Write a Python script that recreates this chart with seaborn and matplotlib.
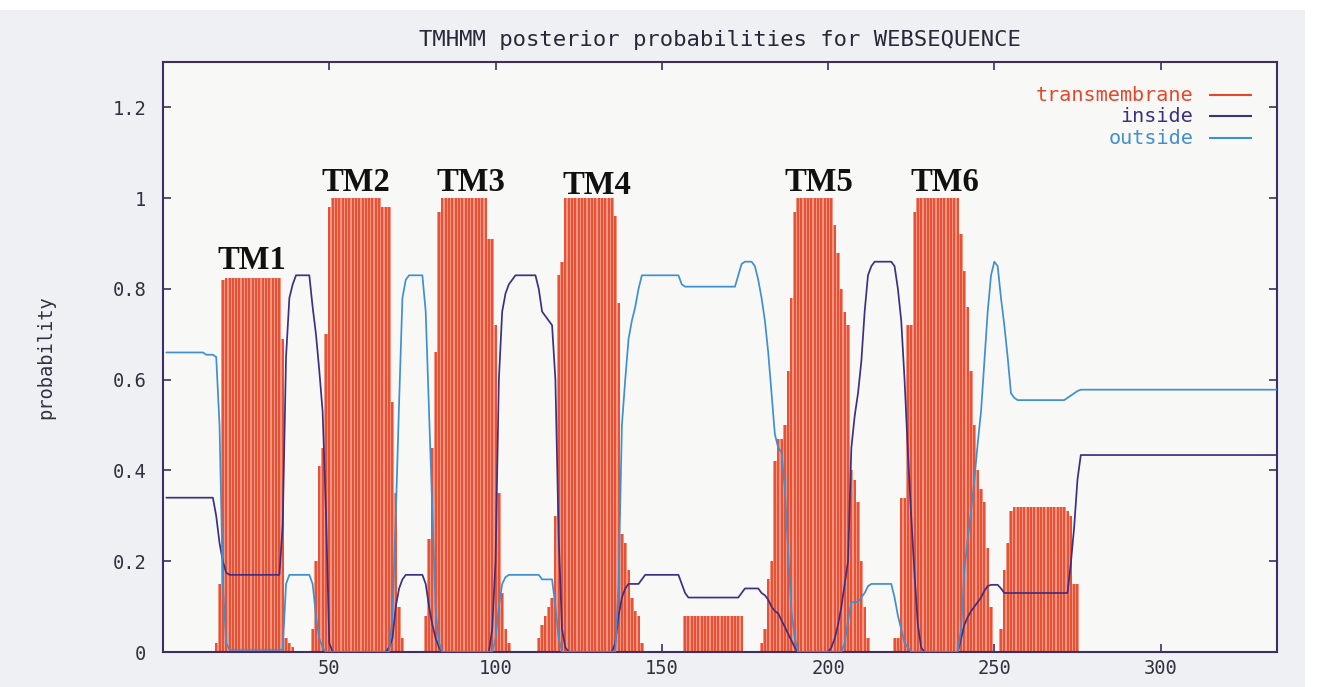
import numpy as np
import pandas as pd
import matplotlib
matplotlib.use("Agg")
import matplotlib.pyplot as plt
from matplotlib.patches import Rectangle
import seaborn as sns

# ---------------- data (per residue) ----------------
transmembrane = [
    0, 0, 0, 0, 0, 0, 0, 0, 0, 0,
    0, 0, 0, 0, 0, .02, .15, .82, .825, .825,
    .825, .825, .825, .825, .825, .825, .825, .825, .825, .825,
    .825, .825, .825, .825, .825, .69, .03, .02, .01, 0,
    0, 0, 0, 0, .05, .2, .41, .45, .7, .98,
    1, 1, 1, 1, 1, 1, 1, 1, 1, 1,
    1, 1, 1, 1, 1, .98, .98, .98, .55, .35,
    .1, .03, 0, 0, 0, 0, 0, 0, .08, .25,
    .45, .66, .97, 1, 1, 1, 1, 1, 1, 1,
    1, 1, 1, 1, 1, 1, 1, .91, .91, .72,
    .35, .13, .05, .02, 0, 0, 0, 0, 0, 0,
    0, 0, .03, .06, .08, .1, .12, .3, .83, .86,
    1, 1, 1, 1, 1, 1, 1, 1, 1, 1,
    1, 1, 1, 1, 1, .96, .77, .26, .24, .18,
    .12, .09, .08, .02, 0, 0, 0, 0, 0, 0,
    0, 0, 0, 0, 0, 0, .08, .08, .08, .08,
    .08, .08, .08, .08, .08, .08, .08, .08, .08, .08,
    .08, .08, .08, .08, 0, 0, 0, 0, 0, .02,
    .05, .16, .2, .42, .47, .47, .5, .62, .78, .97,
    1, 1, 1, 1, 1, 1, 1, 1, 1, 1,
    1, .94, .88, .8, .75, .72, .4, .38, .33, .2,
    .1, .03, 0, 0, 0, 0, 0, 0, 0, .03,
    .03, .34, .34, .72, .72, .97, 1, 1, 1, 1,
    1, 1, 1, 1, 1, 1, 1, 1, 1, .92,
    .84, .76, .62, .5, .4, .36, .33, .23, .1, 0,
    0, .05, .18, .24, .31, .32, .32, .32, .32, .32,
    .32, .32, .32, .32, .32, .32, .32, .32, .32, .32,
    .32, .31, .3, .15, .15, 0, 0, 0, 0, 0,
    0, 0, 0, 0, 0, 0, 0, 0, 0, 0,
    0, 0, 0, 0, 0, 0, 0, 0, 0, 0,
    0, 0, 0, 0, 0, 0, 0, 0, 0, 0,
    0, 0, 0, 0, 0, 0, 0, 0, 0, 0,
    0, 0, 0, 0, 0, 0, 0, 0, 0, 0,
    0, 0, 0, 0, 0,
]

inside = [
    .34, .34, .34, .34, .34, .34, .34, .34, .34, .34,
    .34, .34, .34, .34, .34, .3, .24, .2, .175, .17,
    .17, .17, .17, .17, .17, .17, .17, .17, .17, .17,
    .17, .17, .17, .17, .17, .28, .65, .78, .81, .83,
    .83, .83, .83, .83, .76, .7, .62, .53, .31, .02,
    0, 0, 0, 0, 0, 0, 0, 0, 0, 0,
    0, 0, 0, 0, 0, 0, 0, .01, .03, .1,
    .14, .16, .17, .17, .17, .17, .17, .17, .15, .1,
    .06, .03, .01, 0, 0, 0, 0, 0, 0, 0,
    0, 0, 0, 0, 0, 0, 0, 0, .05, .2,
    .6, .75, .79, .81, .82, .83, .83, .83, .83, .83,
    .83, .83, .8, .75, .74, .73, .72, .6, .25, .05,
    .01, 0, 0, 0, 0, 0, 0, 0, 0, 0,
    0, 0, 0, 0, 0, .02, .08, .12, .14, .15,
    .15, .15, .15, .16, .17, .17, .17, .17, .17, .17,
    .17, .17, .17, .17, .17, .15, .13, .12, .12, .12,
    .12, .12, .12, .12, .12, .12, .12, .12, .12, .12,
    .12, .12, .12, .13, .14, .14, .14, .14, .14, .13,
    .125, .115, .1, .09, .085, .07, .055, .04, .025, .01,
    0, 0, 0, 0, 0, 0, 0, 0, 0, 0,
    .01, .03, .06, .1, .15, .2, .45, .52, .57, .64,
    .75, .83, .85, .86, .86, .86, .86, .86, .86, .85,
    .8, .73, .6, .44, .3, .17, .06, .01, 0, 0,
    0, 0, 0, 0, 0, 0, 0, 0, 0, .03,
    .06, .077, .09, .1, .11, .12, .135, .145, .148, .148,
    .148, .14, .13, .13, .13, .13, .13, .13, .13, .13,
    .13, .13, .13, .13, .13, .13, .13, .13, .13, .13,
    .13, .13, .195, .275, .38, .434, .434, .434, .434, .434,
    .434, .434, .434, .434, .434, .434, .434, .434, .434, .434,
    .434, .434, .434, .434, .434, .434, .434, .434, .434, .434,
    .434, .434, .434, .434, .434, .434, .434, .434, .434, .434,
    .434, .434, .434, .434, .434, .434, .434, .434, .434, .434,
    .434, .434, .434, .434, .434, .434, .434, .434, .434, .434,
    .434, .434, .434, .434, .434,
]

outside = [
    .66, .66, .66, .66, .66, .66, .66, .66, .66, .66,
    .66, .66, .655, .655, .655, .65, .5, .15, .02, .005,
    .005, .005, .005, .005, .005, .005, .005, .005, .005, .005,
    .005, .005, .005, .005, .005, .005, .15, .17, .17, .17,
    .17, .17, .17, .17, .15, .08, .03, .01, 0, 0,
    0, 0, 0, 0, 0, 0, 0, 0, 0, 0,
    0, 0, 0, 0, 0, 0, 0, 0, .08, .3,
    .55, .78, .82, .83, .83, .83, .83, .83, .75, .53,
    .31, .09, .02, 0, 0, 0, 0, 0, 0, 0,
    0, 0, 0, 0, 0, 0, 0, 0, 0, .03,
    .1, .15, .165, .17, .17, .17, .17, .17, .17, .17,
    .17, .17, .17, .16, .16, .16, .16, .1, .03, 0,
    0, 0, 0, 0, 0, 0, 0, 0, 0, 0,
    0, 0, 0, 0, 0, 0, .15, .5, .6, .69,
    .73, .76, .8, .83, .83, .83, .83, .83, .83, .83,
    .83, .83, .83, .83, .83, .81, .805, .805, .805, .805,
    .805, .805, .805, .805, .805, .805, .805, .805, .805, .805,
    .805, .805, .83, .855, .86, .86, .86, .85, .82, .78,
    .73, .66, .57, .48, .45, .44, .36, .22, .09, .03,
    0, 0, 0, 0, 0, 0, 0, 0, 0, 0,
    0, 0, 0, 0, .02, .07, .11, .11, .11, .12,
    .13, .145, .15, .15, .15, .15, .15, .15, .15, .12,
    .08, .05, .02, .01, 0, 0, 0, 0, 0, 0,
    0, 0, 0, 0, 0, 0, 0, 0, 0, .05,
    .18, .25, .31, .38, .46, .53, .64, .75, .83, .86,
    .85, .78, .72, .65, .57, .56, .555, .555, .555, .555,
    .555, .555, .555, .555, .555, .555, .555, .555, .555, .555,
    .555, .56, .565, .57, .575, .578, .578, .578, .578, .578,
    .578, .578, .578, .578, .578, .578, .578, .578, .578, .578,
    .578, .578, .578, .578, .578, .578, .578, .578, .578, .578,
    .578, .578, .578, .578, .578, .578, .578, .578, .578, .578,
    .578, .578, .578, .578, .578, .578, .578, .578, .578, .578,
    .578, .578, .578, .578, .578, .578, .578, .578, .578, .578,
    .578, .578, .578, .578, .578,
]

tm_labels = ["TM1", "TM2", "TM3", "TM4", "TM5", "TM6"]
tm_label_x = [26.8, 58, 92.5, 130.4, 197.3, 235]
tm_label_y = [0.845, 1.015, 1.015, 1.01, 1.015, 1.015]

x_ticks = [50, 100, 150, 200, 250, 300]
y_ticks = [0, 0.2, 0.4, 0.6, 0.8, 1.0, 1.2]
y_tick_labels = ["0", "0.2", "0.4", "0.6", "0.8", "1", "1.2"]

title = "TMHMM posterior probabilities for WEBSEQUENCE"
series_names = ["transmembrane", "inside", "outside"]

# ---------------- style ----------------
C_TM = "#e6472a"
C_TM_LIGHT = "#f19683"
C_IN = "#3d2f84"
C_OUT = "#3f8fd2"
C_FRAME = "#3b2f66"
C_TEXT = "#33303f"
MONO = ["DejaVu Sans Mono"]

sns.set_theme(style="ticks")
plt.rcParams["font.family"] = MONO

n = min(len(transmembrane), len(inside), len(outside))
df = pd.DataFrame({
    "residue": np.arange(1, n + 1),
    "transmembrane": transmembrane[:n],
    "inside": inside[:n],
    "outside": outside[:n],
})

fig = plt.figure(figsize=(13.17, 6.87), dpi=100, facecolor="#eef0f3")
fig.add_artist(Rectangle((0, 1 - 10 / 687), 1, 10 / 687, transform=fig.transFigure,
                         facecolor="white", edgecolor="none", zorder=0))
fig.add_artist(Rectangle((1 - 12 / 1317, 0), 12 / 1317, 1, transform=fig.transFigure,
                         facecolor="white", edgecolor="none", zorder=0))

ax = fig.add_axes([163 / 1317, 1 - 652 / 687, (1277 - 163) / 1317, (652 - 62) / 687])
ax.set_facecolor("#f8f8f6")

# transmembrane impulses
ax.bar(df["residue"], df["transmembrane"], width=1.0, color=C_TM_LIGHT,
       linewidth=0, zorder=1)
ax.vlines(df["residue"], 0, df["transmembrane"], color=C_TM, linewidth=1.25, zorder=2)

# inside / outside lines
sns.lineplot(data=df, x="residue", y="inside", ax=ax, color=C_IN, linewidth=1.25, zorder=3)
sns.lineplot(data=df, x="residue", y="outside", ax=ax, color=C_OUT, linewidth=1.25, zorder=3)

ax.set_xlim(0, 335)
ax.set_ylim(0, 1.3)

ax.set_xticks(x_ticks)
ax.set_xticklabels([str(v) for v in x_ticks])
ax.set_yticks(y_ticks)
ax.set_yticklabels(y_tick_labels)
ax.tick_params(axis="both", direction="in", length=6, width=1.2, color=C_FRAME,
               labelsize=13.5, labelcolor=C_TEXT, top=True, right=True)
ax.tick_params(axis="y", pad=12)
ax.tick_params(axis="x", pad=5)
for s in ax.spines.values():
    s.set_visible(True)
    s.set_color(C_FRAME)
    s.set_linewidth(1.5)

ax.set_xlabel("")
ax.set_ylabel("probability", fontsize=13.5, color=C_TEXT)
ax.yaxis.set_label_coords(-0.097, 0.5)

fig.text(720 / 1317, 1 - 40 / 687, title, ha="center", va="center",
         fontsize=16, color="#2a2838", family=MONO)

# legend (gnuplot style: right-aligned label, then a line sample)
leg_colors = [C_TM, C_IN, C_OUT]
leg_y = [0.944, 0.908, 0.871]
for name, col, yy in zip(series_names, leg_colors, leg_y):
    ax.text(0.9246, yy, name, transform=ax.transAxes, ha="right", va="center",
            fontsize=14.5, color=col, family=MONO)
    ax.plot([0.939, 0.9776], [yy, yy], transform=ax.transAxes, color=col,
            linewidth=1.5, solid_capstyle="butt")

# TM annotations
for lab, xx, yy in zip(tm_labels, tm_label_x, tm_label_y):
    ax.text(xx, yy, lab, ha="center", va="baseline", fontsize=23.5,
            fontweight="bold", color="#111111", family=["Liberation Serif"], zorder=5)

fig.savefig("out.png", dpi=100, facecolor=fig.get_facecolor())
